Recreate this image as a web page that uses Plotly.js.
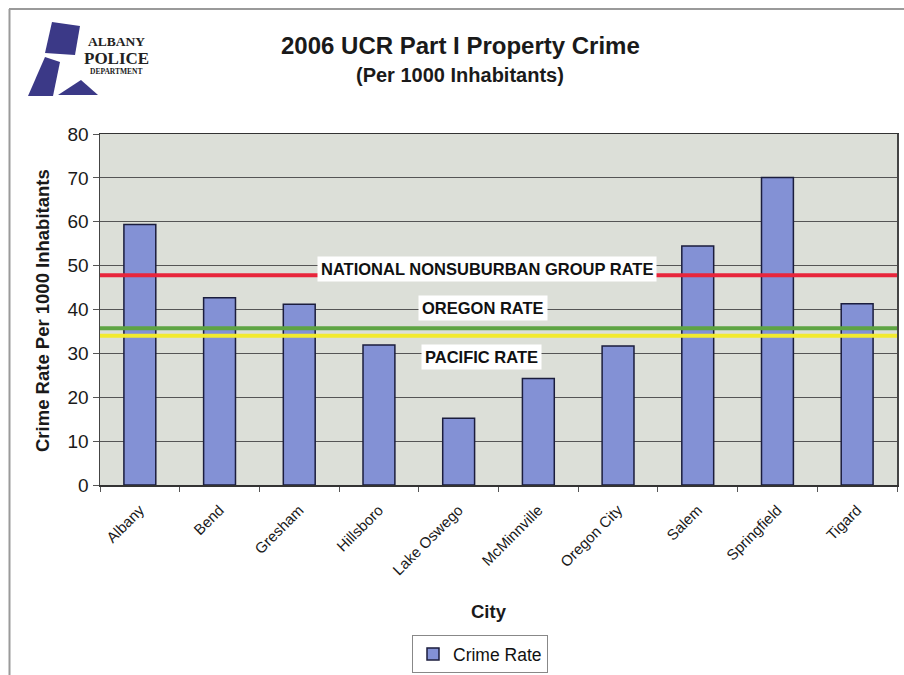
<!DOCTYPE html>
<html>
<head>
<meta charset="utf-8">
<script src="https://cdn.plot.ly/plotly-3.0.1.min.js"></script>
<style>html,body{margin:0;padding:0;background:#fff;}#chart{width:904px;height:675px;}</style>
</head>
<body>
<div id="chart"></div>
<script>
// ---- data ----
const cities = ["Albany","Bend","Gresham","Hillsboro","Lake Oswego","McMinnville","Oregon City","Salem","Springfield","Tigard"];
const crimeRate = [59.4, 42.7, 41.2, 31.9, 15.2, 24.3, 31.7, 54.5, 70.1, 41.3];
const refNames = ["NATIONAL NONSUBURBAN GROUP RATE", "OREGON RATE", "PACIFIC RATE"];
const refValues = [47.8, 35.7, 34.0];
const seriesName = "Crime Rate";
const yTicks = [0,10,20,30,40,50,60,70,80];

// ---- geometry helpers (pixel -> paper) ----
const L = 100, R = 7, T = 134, B = 190, W = 904, H = 675;
const pw = W - L - R, ph = H - T - B;
const px = x => (x - L) / pw;
const py = y => (H - B - y) / ph;
const path = pts => "M" + pts.map(p => px(p[0]).toFixed(5) + "," + py(p[1]).toFixed(5)).join(" L") + " Z";

const FONT = "Liberation Sans, Arial, sans-serif";
const refColors = ["#e8263c", "#5ea443", "#f2ea2e"];
const labelPos = [[487, 269], [483, 307.5], [481, 357]];

const shapes = [];
refValues.forEach((v, i) => {
  shapes.push({type: "line", xref: "paper", yref: "y", x0: 0, x1: 1, y0: v, y1: v,
    line: {color: refColors[i], width: 4}, layer: "above"});
});
// page border lines
shapes.push({type: "line", xref: "paper", yref: "paper", x0: px(9), x1: px(904), y0: py(9), y1: py(9), line: {color: "#9a9a9a", width: 2}});
shapes.push({type: "line", xref: "paper", yref: "paper", x0: px(9.5), x1: px(9.5), y0: py(9), y1: py(675), line: {color: "#9a9a9a", width: 2}});
// logo shapes
const logoColor = "#3b3987";
shapes.push({type: "path", xref: "paper", yref: "paper", path: path([[52,22],[80,26],[75,55],[45,53]]), fillcolor: logoColor, line: {width: 0}});
shapes.push({type: "path", xref: "paper", yref: "paper", path: path([[45,57],[60,62],[53,96],[28,96]]), fillcolor: logoColor, line: {width: 0}});
shapes.push({type: "path", xref: "paper", yref: "paper", path: path([[58,95],[81,80],[98,95]]), fillcolor: logoColor, line: {width: 0}});

const annotations = [];
function ann(text, x, y, font, extra) {
  annotations.push(Object.assign({text: text, xref: "paper", yref: "paper", x: px(x), y: py(y),
    xanchor: "center", yanchor: "middle", showarrow: false, font: font}, extra || {}));
}
refNames.forEach((n, i) => {
  ann("<b>" + n + "</b>", labelPos[i][0], labelPos[i][1], {family: FONT, size: 16.5, color: "#111"},
      {bgcolor: "#ffffff", borderpad: 3});
});
ann("<b>2006 UCR Part I Property Crime</b>", 460, 45, {family: FONT, size: 24, color: "#1a1a1a"});
ann("<b>(Per 1000 Inhabitants)</b>", 460, 75, {family: FONT, size: 20, color: "#1a1a1a"});
ann("<b>Crime Rate Per 1000 Inhabitants</b>", 42, 311, {family: FONT, size: 18.5, color: "#1a1a1a"}, {textangle: -90});
ann("<b>City</b>", 489, 611, {family: FONT, size: 18.5, color: "#1a1a1a"});
// logo text
const SERIF = "Liberation Serif, DejaVu Serif, serif";
ann("<b>ALBANY</b>", 116, 42, {family: SERIF, size: 13.5, color: "#222"});
ann("<b>POLICE</b>", 116, 58, {family: SERIF, size: 17, color: "#222"});
ann("<b>DEPARTMENT</b>", 116, 71.5, {family: SERIF, size: 7.5, color: "#222"});

const data = [{
  type: "bar", x: cities, y: crimeRate, name: seriesName,
  marker: {color: "#8391d5", line: {color: "#1b1d3d", width: 1.5}},
  showlegend: true
}];

const layout = {
  width: W, height: H,
  margin: {l: L, r: R, t: T, b: B},
  paper_bgcolor: "#ffffff",
  plot_bgcolor: "#dcdfd8",
  bargap: 0.6,
  font: {family: FONT, color: "#1a1a1a"},
  xaxis: {
    type: "category", tickangle: -45, tickson: "boundaries", ticks: "outside", ticklen: 5, tickcolor: "#555",
    showline: true, linecolor: "#333", linewidth: 1.5, mirror: true, showgrid: false,
    ticklabelstandoff: 9,
    tickfont: {family: FONT, size: 15, color: "#1a1a1a"}
  },
  yaxis: {
    range: [0, 80], tickvals: yTicks, ticks: "outside", ticklen: 6, tickcolor: "#555",
    showline: true, linecolor: "#444", linewidth: 1.5, mirror: true,
    gridcolor: "#555", gridwidth: 1, zeroline: false,
    tickfont: {family: FONT, size: 19, color: "#1a1a1a"}
  },
  showlegend: true,
  legend: {orientation: "h", xref: "container", yref: "container",
    x: 480 / W, xanchor: "center", y: 1 - 635 / H, yanchor: "top",
    bordercolor: "#888", borderwidth: 1, bgcolor: "#fff", font: {family: FONT, size: 17.5, color: "#111"}},
  shapes: shapes,
  annotations: annotations
};

Plotly.newPlot("chart", data, layout, {displayModeBar: false, staticPlot: true});
</script>
</body>
</html>
